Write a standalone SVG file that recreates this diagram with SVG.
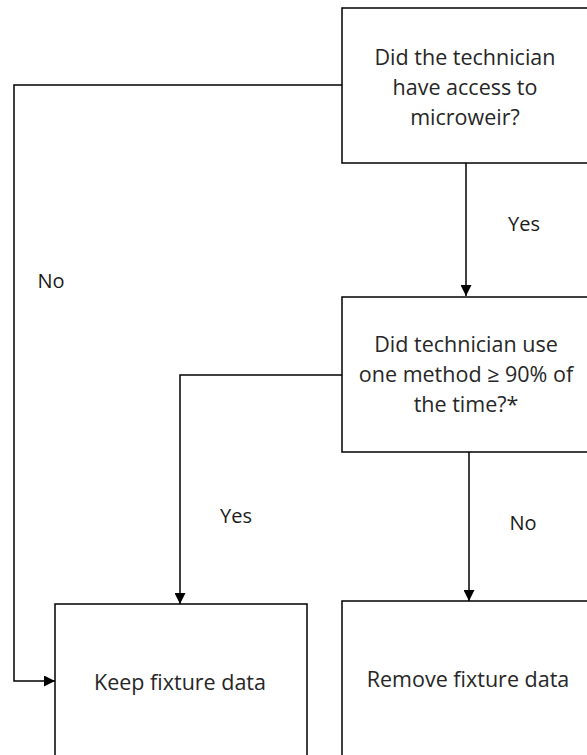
<svg xmlns="http://www.w3.org/2000/svg" width="587" height="755" viewBox="0 0 587 755">
<style>
.box{fill:#fff;stroke:#000;stroke-width:1.5}
.t{font-family:"Open Sans","Liberation Sans",sans-serif;font-size:21.5px;fill:#262626;text-anchor:middle}
.l{font-family:"Open Sans","Liberation Sans",sans-serif;font-size:20px;fill:#1a1a1a;text-anchor:middle}
.c{fill:none;stroke:#000;stroke-width:1.5}
</style>
<defs>
<marker id="ah" viewBox="0 0 10 10" refX="10" refY="5" markerWidth="11" markerHeight="11" markerUnits="userSpaceOnUse" orient="auto">
<path d="M0,0 L10,5 L0,10 Z" fill="#000"/>
</marker>
</defs>
<rect width="587" height="755" fill="#fff"/>
<g id="connectors">
<path class="c" d="M466,163 V296" marker-end="url(#ah)"/>
<path class="c" d="M342,85 H14 V681 H55" marker-end="url(#ah)"/>
<path class="c" d="M342,375 H180 V604" marker-end="url(#ah)"/>
<path class="c" d="M469,452 V601" marker-end="url(#ah)"/>
<text class="l" x="524" y="231">Yes</text>
<text class="l" x="51" y="288">No</text>
<text class="l" x="236" y="523">Yes</text>
<text class="l" x="523" y="530">No</text>
</g>
<g id="q1">
<rect class="box" x="342" y="8" width="260" height="155"/>
<text class="t" x="465" y="65">Did the technician</text>
<text class="t" x="465" y="95">have access to</text>
<text class="t" x="465" y="125">microweir?</text>
</g>
<g id="q2">
<rect class="box" x="342" y="297" width="260" height="155"/>
<text class="t" x="466" y="352">Did technician use</text>
<text class="t" x="466" y="382">one method ≥ 90% of</text>
<text class="t" x="466" y="412">the time?*</text>
</g>
<g id="keep">
<rect class="box" x="55" y="604" width="252" height="170"/>
<text class="t" x="180" y="690">Keep fixture data</text>
</g>
<g id="remove">
<rect class="box" x="342" y="601" width="260" height="170"/>
<text class="t" x="468" y="687">Remove fixture data</text>
</g>
</svg>
